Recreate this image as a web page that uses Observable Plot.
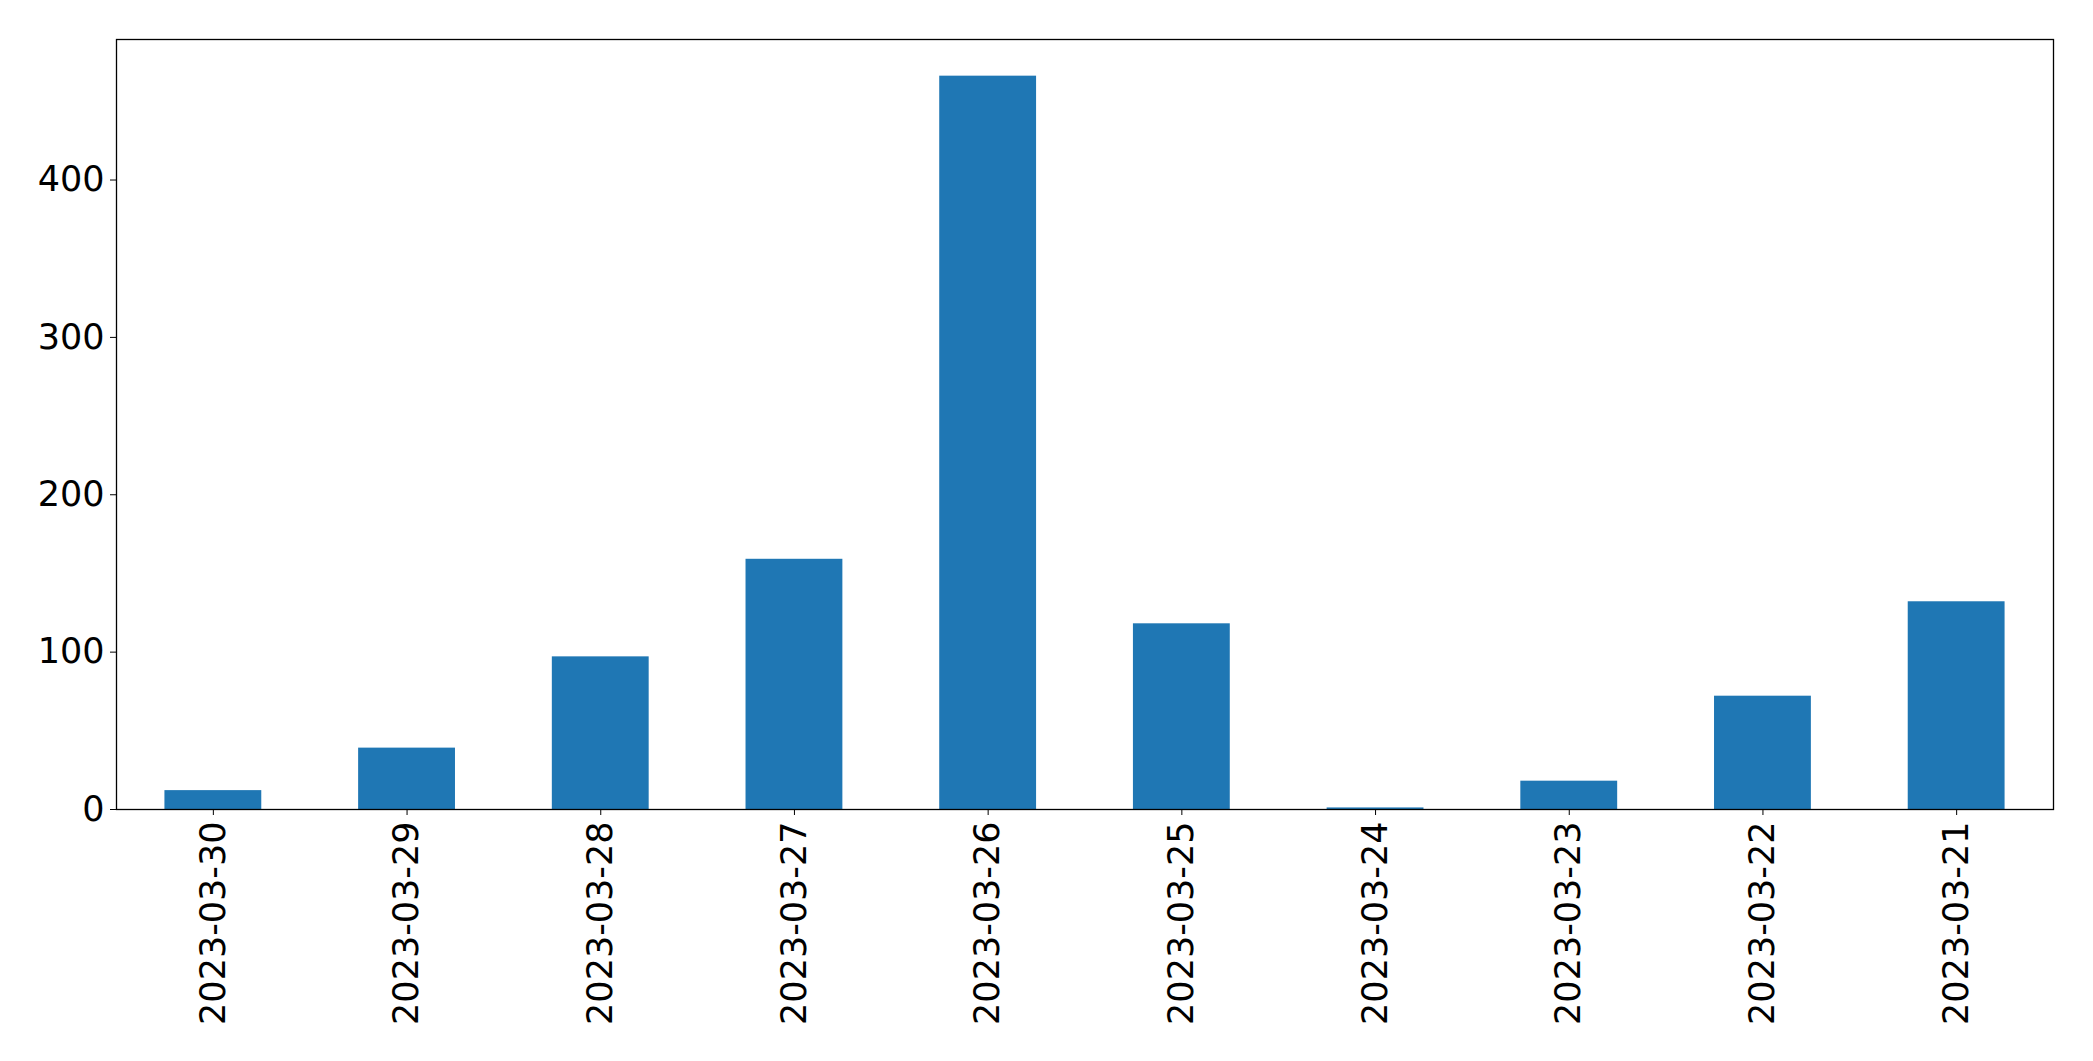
<!DOCTYPE html>
<html>
<head>
<meta charset="utf-8">
<script src="https://cdn.jsdelivr.net/npm/d3@7"></script>
<script src="https://cdn.jsdelivr.net/npm/@observablehq/plot@0.6"></script>
<style>
  html, body { margin: 0; padding: 0; background: #fff; }
  #chart svg { display: block; }
</style>
</head>
<body>
<div id="chart"></div>
<script>
const dates = ["2023-03-30", "2023-03-29", "2023-03-28", "2023-03-27", "2023-03-26",
               "2023-03-25", "2023-03-24", "2023-03-23", "2023-03-22", "2023-03-21"];
const counts = [12, 39, 97, 159, 466, 118, 1, 18, 72, 132];
const yTicks = [0, 100, 200, 300, 400];

const data = dates.map((d, i) => ({date: d, count: counts[i]}));
const yMax = d3.max(counts) * 1.05;

const chart = Plot.plot({
  width: 2093,
  height: 1061,
  marginLeft: 116,
  marginRight: 40,
  marginTop: 39,
  marginBottom: 252,
  style: {fontFamily: "DejaVu Sans", fontSize: "35px", color: "#000", background: "#fff"},
  x: {type: "band", domain: dates, paddingInner: 0.5, paddingOuter: 0.25, round: false, label: null},
  y: {domain: [0, yMax], label: null},
  marks: [
    Plot.barY(data, {x: "date", y: "count", fill: "#1f77b4"}),
    Plot.axisX({tickRotate: -90, tickSize: 6, tickPadding: 6, fontSize: 35, label: null}),
    Plot.axisY({ticks: yTicks, tickSize: 6, tickPadding: 6, fontSize: 35, label: null}),
    Plot.frame({stroke: "#000", strokeWidth: 1.3})
  ]
});
document.getElementById("chart").appendChild(chart);
</script>
</body>
</html>
